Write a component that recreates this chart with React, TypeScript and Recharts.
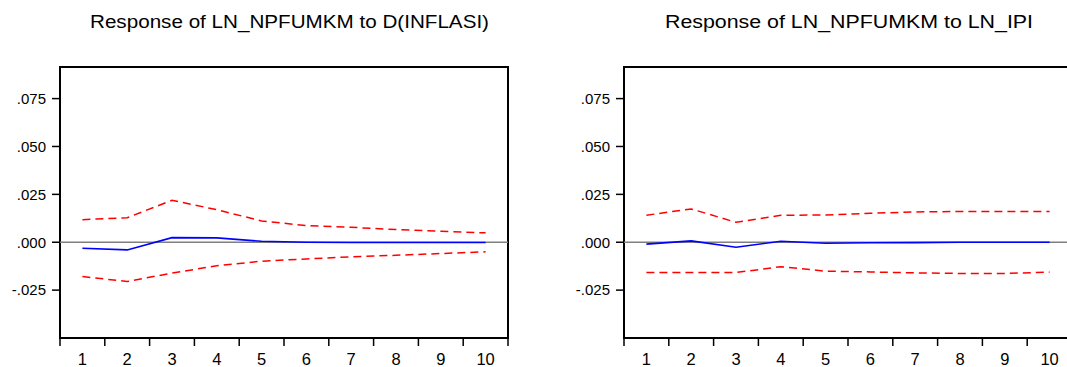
import React from "react";
import {
  LineChart,
  Line,
  XAxis,
  YAxis,
  ReferenceLine,
  ReferenceArea,
} from "recharts";

// ---- data ----
const periods = [1, 2, 3, 4, 5, 6, 7, 8, 9, 10];

const inflResponse = [-0.0031, -0.004, 0.0024, 0.0023, 0.0005, 0.0, -0.0001, -0.0001, -0.0001, -0.0001];
const inflUpper = [0.0118, 0.0128, 0.0219, 0.017, 0.0111, 0.0087, 0.0078, 0.0066, 0.0057, 0.0049];
const inflLower = [-0.0179, -0.0205, -0.0161, -0.0123, -0.0099, -0.0087, -0.0076, -0.0068, -0.0059, -0.005];

const ipiResponse = [-0.001, 0.0007, -0.0026, 0.0005, -0.0005, -0.0003, -0.0002, 0.0, 0.0, 0.0];
const ipiUpper = [0.0141, 0.0174, 0.0104, 0.0141, 0.0142, 0.0151, 0.0158, 0.0161, 0.0161, 0.0161];
const ipiLower = [-0.0158, -0.0158, -0.0158, -0.0128, -0.0151, -0.0155, -0.016, -0.0163, -0.0163, -0.0156];

const yTickValues = [-0.025, 0, 0.025, 0.05, 0.075];
const yTickLabels = ["-.025", ".000", ".025", ".050", ".075"];
const yDomain: [number, number] = [-0.05, 0.0915];

const titles = [
  "Response of LN_NPFUMKM to D(INFLASI)",
  "Response of LN_NPFUMKM to LN_IPI",
];

// ---- helpers ----
const xDomain: [number, number] = [periods[0] - 0.5, periods[periods.length - 1] + 0.5];
const boundaries = [...periods.map((p) => p - 0.5), periods[periods.length - 1] + 0.5];

function buildRows(resp: number[], up: number[], lo: number[]) {
  return periods.map((p, i) => ({ period: p, resp: resp[i], up: up[i], lo: lo[i] }));
}

const FONT = '"Liberation Sans", Arial, Helvetica, sans-serif';

function fmtY(v: number) {
  const i = yTickValues.findIndex((t) => Math.abs(t - v) < 1e-9);
  return i >= 0 ? yTickLabels[i] : String(v);
}

const EmptyTick = () => <g />;

function Panel({ rows, left }: { rows: any[]; left: number }) {
  return (
    <div style={{ position: "absolute", left, top: 0 }}>
      <LineChart
        width={530}
        height={367}
        data={rows}
        margin={{ top: 67, right: 22, bottom: 0, left: 0 }}
      >
        <XAxis
          xAxisId="b_labels"
          dataKey="period"
          type="number"
          domain={xDomain}
          allowDataOverflow
          ticks={periods}
          interval={0}
          axisLine={false}
          tickLine={false}
          tickSize={0}
          tickMargin={7}
          height={21}
          tick={{ fill: "#000", fontSize: 16.5, fontFamily: FONT }}
        />
        <XAxis
          xAxisId="a_ticks"
          dataKey="period"
          type="number"
          domain={xDomain}
          allowDataOverflow
          ticks={boundaries}
          interval={0}
          tick={EmptyTick}
          axisLine={false}
          tickLine={{ stroke: "#000", strokeWidth: 1.5 }}
          tickSize={8}
          height={8}
        />
        <YAxis
          type="number"
          domain={yDomain}
          allowDataOverflow
          ticks={yTickValues}
          interval={0}
          tickFormatter={fmtY}
          axisLine={false}
          tickLine={{ stroke: "#000", strokeWidth: 1.5 }}
          tickSize={8}
          tickMargin={6}
          width={60}
          tick={{ fill: "#000", fontSize: 15, fontFamily: FONT }}
        />
        <ReferenceLine
          xAxisId="b_labels"
          y={0}
          stroke="#7f7f7f"
          strokeWidth={1.5}
        />
        <Line
          xAxisId="b_labels"
          type="linear"
          dataKey="up"
          stroke="#ff0000"
          strokeWidth={1.5}
          strokeDasharray="8 5"
          dot={false}
          activeDot={false}
          isAnimationActive={false}
        />
        <Line
          xAxisId="b_labels"
          type="linear"
          dataKey="lo"
          stroke="#ff0000"
          strokeWidth={1.5}
          strokeDasharray="8 5"
          dot={false}
          activeDot={false}
          isAnimationActive={false}
        />
        <Line
          xAxisId="b_labels"
          type="linear"
          dataKey="resp"
          stroke="#0000ff"
          strokeWidth={1.6}
          dot={false}
          activeDot={false}
          isAnimationActive={false}
        />
        <ReferenceArea
          xAxisId="b_labels"
          x1={xDomain[0]}
          x2={xDomain[1]}
          y1={yDomain[0]}
          y2={yDomain[1]}
          fill="none"
          fillOpacity={0}
          stroke="#000"
          strokeWidth={2}
          ifOverflow="visible"
        />
      </LineChart>
    </div>
  );
}

export default function App() {
  return (
    <div
      style={{
        position: "fixed",
        left: 0,
        top: 0,
        width: 1067,
        height: 367,
        overflow: "hidden",
        background: "#fff",
      }}
    >
      <Panel rows={buildRows(inflResponse, inflUpper, inflLower)} left={0} />
      <Panel rows={buildRows(ipiResponse, ipiUpper, ipiLower)} left={564} />
      <svg
        width={1067}
        height={40}
        style={{ position: "absolute", left: 0, top: 0 }}
      >
        <text
          x={289.5}
          y={28}
          textAnchor="middle"
          fontFamily={FONT}
          fontSize={17.5}
          fill="#000"
          textLength={399}
          lengthAdjust="spacingAndGlyphs"
        >
          {titles[0]}
        </text>
        <text
          x={849}
          y={28}
          textAnchor="middle"
          fontFamily={FONT}
          fontSize={17.5}
          fill="#000"
          textLength={368}
          lengthAdjust="spacingAndGlyphs"
        >
          {titles[1]}
        </text>
      </svg>
    </div>
  );
}
